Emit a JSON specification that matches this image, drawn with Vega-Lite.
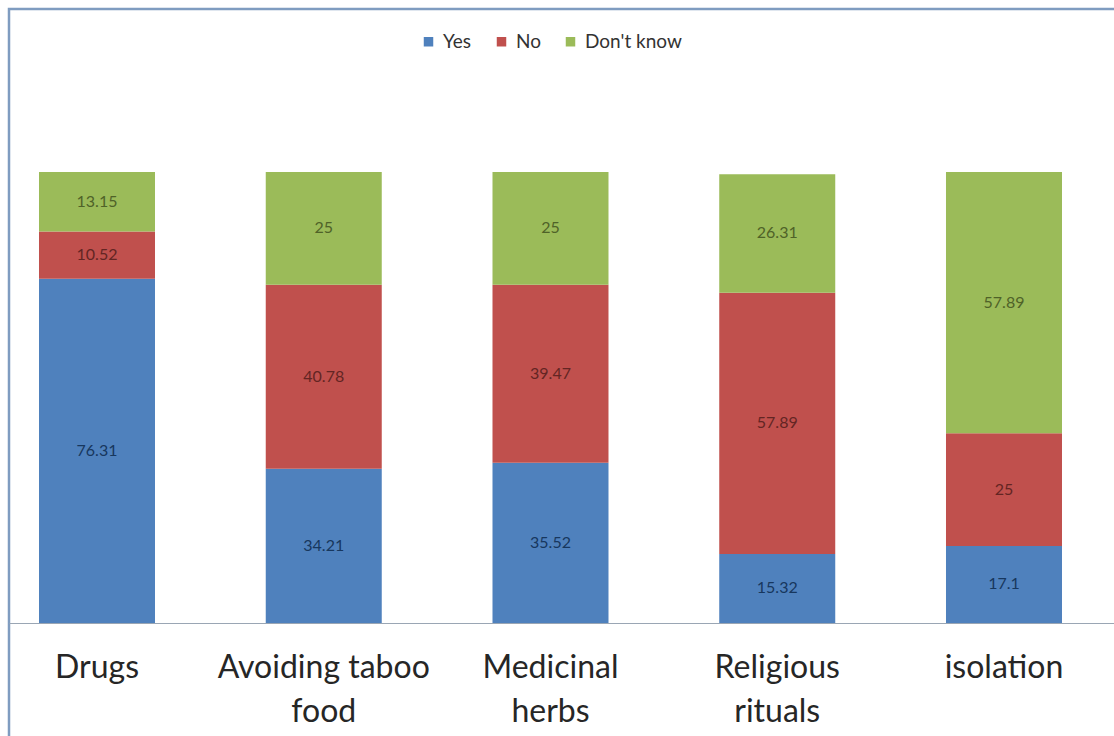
{
  "$schema": "https://vega.github.io/schema/vega-lite/v6.json",
  "autosize": {"type": "none"},
  "width": 1110,
  "height": 732,
  "padding": {"left": 9, "top": 9, "right": 0, "bottom": 0},
  "background": "#ffffff",
  "config": {
    "view": {"stroke": "#7f9cc0", "strokeWidth": 2.5},
    "font": "Lato"
  },
  "data": {
    "values": [
      {"category": "Drugs", "series": "Yes", "order": 1, "value": 76.31},
      {"category": "Drugs", "series": "No", "order": 2, "value": 10.52},
      {"category": "Drugs", "series": "Don't know", "order": 3, "value": 13.15},
      {"category": "Avoiding taboo food", "series": "Yes", "order": 1, "value": 34.21},
      {"category": "Avoiding taboo food", "series": "No", "order": 2, "value": 40.78},
      {"category": "Avoiding taboo food", "series": "Don't know", "order": 3, "value": 25},
      {"category": "Medicinal herbs", "series": "Yes", "order": 1, "value": 35.52},
      {"category": "Medicinal herbs", "series": "No", "order": 2, "value": 39.47},
      {"category": "Medicinal herbs", "series": "Don't know", "order": 3, "value": 25},
      {"category": "Religious rituals", "series": "Yes", "order": 1, "value": 15.32},
      {"category": "Religious rituals", "series": "No", "order": 2, "value": 57.89},
      {"category": "Religious rituals", "series": "Don't know", "order": 3, "value": 26.31},
      {"category": "isolation", "series": "Yes", "order": 1, "value": 17.1},
      {"category": "isolation", "series": "No", "order": 2, "value": 25},
      {"category": "isolation", "series": "Don't know", "order": 3, "value": 57.89}
    ]
  },
  "transform": [
    {"stack": "value", "groupby": ["category"], "sort": [{"field": "order", "order": "ascending"}], "as": ["y0", "y1"]},
    {"calculate": "(datum.y0 + datum.y1) / 2", "as": "ymid"}
  ],
  "encoding": {
    "x": {
      "field": "category",
      "type": "nominal",
      "sort": null,
      "scale": {"paddingInner": 0.4884, "paddingOuter": 0.19185, "align": 0.3448},
      "axis": {
        "title": null,
        "orient": "bottom",
        "offset": -118,
        "domainColor": "#9aa6b4",
        "domainWidth": 1.2,
        "ticks": false,
        "labelAngle": 0,
        "labelFont": "Lato",
        "labelFontSize": 32,
        "labelColor": "#262626",
        "labelPadding": 29,
        "labelLineHeight": 44,
        "labelBaseline": "top",
        "labelLimit": 400,
        "labelExpr": "datum.value == 'Avoiding taboo food' ? ['Avoiding taboo', 'food'] : datum.value == 'Medicinal herbs' ? ['Medicinal', 'herbs'] : datum.value == 'Religious rituals' ? ['Religious', 'rituals'] : datum.label"
      }
    }
  },
  "layer": [
    {
      "mark": {"type": "bar"},
      "encoding": {
        "y": {
          "field": "y0",
          "type": "quantitative",
          "scale": {"domain": [-26.16, 136.14], "nice": false, "zero": false},
          "axis": null
        },
        "y2": {"field": "y1"},
        "color": {
          "field": "series",
          "type": "nominal",
          "scale": {"domain": ["Yes", "No", "Don't know"], "range": ["#4f81bd", "#c0504d", "#9bbb59"]},
          "legend": {
            "title": null,
            "orient": "none",
            "direction": "horizontal",
            "legendX": 410,
            "legendY": 23,
            "symbolType": "square",
            "symbolSize": 90,
            "symbolStrokeWidth": 0,
            "labelFont": "Lato",
            "labelFontSize": 19,
            "labelColor": "#333333",
            "labelOffset": 5,
            "columnPadding": 20
          }
        }
      }
    },
    {
      "mark": {"type": "text", "font": "Lato", "fontSize": 16, "align": "center", "baseline": "middle"},
      "encoding": {
        "y": {"field": "ymid", "type": "quantitative"},
        "text": {"field": "value", "type": "nominal"},
        "color": {
          "field": "series",
          "type": "nominal",
          "scale": {"domain": ["Yes", "No", "Don't know"], "range": ["#17375e", "#632523", "#4f6228"]},
          "legend": null
        }
      }
    }
  ],
  "resolve": {"scale": {"color": "independent"}}
}
